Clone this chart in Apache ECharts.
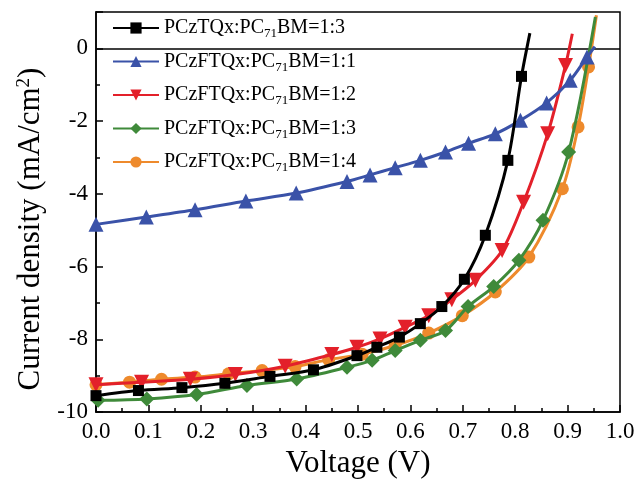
<!DOCTYPE html>
<html><head><meta charset="utf-8">
<script src="https://cdn.jsdelivr.net/npm/echarts@6/dist/echarts.min.js"></script>
<style>html,body{margin:0;padding:0;background:#fff}#c{width:638px;height:484px}</style>
</head><body><div id="c"></div>
<script>
const names = ['PCzTQx:PC71BM=1:3','PCzFTQx:PC71BM=1:1','PCzFTQx:PC71BM=1:2','PCzFTQx:PC71BM=1:3','PCzFTQx:PC71BM=1:4'];
const blackV = [0.0, 0.081, 0.164, 0.246, 0.332, 0.415, 0.498, 0.536, 0.579, 0.619, 0.660, 0.703, 0.743, 0.786, 0.812, 0.828];
const blackJ = [-9.55, -9.41, -9.33, -9.21, -9.02, -8.84, -8.45, -8.22, -7.94, -7.57, -7.10, -6.35, -5.14, -3.08, -0.77, 0.42];
const blueV = [0.0, 0.096, 0.189, 0.286, 0.382, 0.479, 0.523, 0.571, 0.619, 0.667, 0.711, 0.762, 0.810, 0.860, 0.905, 0.937, 0.952];
const blueJ = [-4.84, -4.64, -4.44, -4.20, -3.98, -3.66, -3.48, -3.28, -3.08, -2.85, -2.61, -2.35, -1.98, -1.50, -0.88, -0.24, 0.05];
const redV = [0.0, 0.087, 0.180, 0.266, 0.361, 0.450, 0.498, 0.542, 0.590, 0.635, 0.679, 0.724, 0.775, 0.816, 0.862, 0.896, 0.909];
const redJ = [-9.25, -9.18, -9.10, -8.97, -8.74, -8.42, -8.22, -7.99, -7.67, -7.35, -6.91, -6.38, -5.56, -4.23, -2.35, -0.47, 0.40];
const greenV = [0.004, 0.097, 0.192, 0.288, 0.383, 0.479, 0.527, 0.571, 0.619, 0.667, 0.710, 0.759, 0.807, 0.853, 0.902, 0.953];
const greenJ = [-9.68, -9.64, -9.52, -9.27, -9.09, -8.77, -8.58, -8.31, -8.03, -7.76, -7.10, -6.55, -5.83, -4.73, -2.85, 0.86];
const orangeV = [0.0, 0.064, 0.125, 0.189, 0.253, 0.317, 0.380, 0.444, 0.508, 0.571, 0.635, 0.699, 0.762, 0.826, 0.890, 0.920, 0.940, 0.955];
const orangeJ = [-9.25, -9.18, -9.10, -9.04, -8.95, -8.86, -8.75, -8.56, -8.41, -8.17, -7.83, -7.35, -6.70, -5.74, -3.86, -2.16, -0.51, 0.91];
const colors = ['#000000', '#3a52a8', '#e3202a', '#3f8a3a', '#ee8a2c'];
const symbols = ['rect', 'triangle', 'path://M0,0 L10,0 L5,10 Z', 'diamond', 'circle'];
const symSizes = [11, 15, 15, 15, 13];

function pts(vs, js, lastNoSym) {
  return vs.map((v, i) => {
    const d = { value: [v, js[i]] };
    if (lastNoSym && i === vs.length - 1) d.symbol = 'none';
    return d;
  });
}
const datasets = [pts(blackV, blackJ, true), pts(blueV, blueJ, true), pts(redV, redJ, true), pts(greenV, greenJ, true), pts(orangeV, orangeJ, true)];

const font = 'Liberation Serif';
const chart = echarts.init(document.getElementById('c'), null, { renderer: 'canvas' });
const series = names.map((n, i) => ({
  name: n, type: 'line', data: datasets[i], smooth: 0.3,
  symbol: symbols[i], symbolSize: symSizes[i],
  lineStyle: { color: colors[i], width: 3 },
  itemStyle: { color: colors[i] },
  z: 10 - i,
  animation: false
}));
series.push({
  type: 'line', data: [], silent: true, animation: false,
  markLine: { silent: true, symbol: 'none', label: { show: false },
    lineStyle: { color: '#000', width: 1.5, type: 'solid' }, data: [{ yAxis: 0 }] }
});
chart.setOption({
  animation: false,
  grid: { left: 96, right: 18, top: 12, bottom: 72, show: true, borderColor: '#000', borderWidth: 1.5 },
  legend: {
    orient: 'vertical', left: 107, top: 13, itemWidth: 46, itemHeight: 14, itemGap: 11,
    data: names,
    formatter: n => n.replace('PC71', 'PC{sub|71}'),
    textStyle: { fontFamily: font, fontSize: 20, color: '#000',
      rich: { sub: { fontFamily: font, fontSize: 13, verticalAlign: 'bottom', padding: [12, 0, 0, 0] } } }
  },
  xAxis: {
    type: 'value', min: 0, max: 1, interval: 0.1,
    name: 'Voltage (V)', nameLocation: 'middle', nameGap: 33,
    nameTextStyle: { fontFamily: font, fontSize: 31, color: '#000' },
    axisLine: { onZero: false, lineStyle: { color: '#000', width: 1.5 } },
    axisTick: { inside: true, length: 7, lineStyle: { width: 1.5 } },
    minorTick: { show: true, splitNumber: 2, length: 4, lineStyle: { color: '#000', width: 1.5 } },
    splitLine: { show: false },
    axisLabel: { fontFamily: font, fontSize: 23, color: '#000', margin: 8, formatter: v => v.toFixed(1) }
  },
  yAxis: {
    type: 'value', min: -10, max: 1, interval: 2,
    name: 'Current density (mA/cm{sup|2})', nameLocation: 'middle', nameGap: 40,
    nameTextStyle: { fontFamily: font, fontSize: 31, color: '#000', padding: [0, 34, 0, 0],
      rich: { sup: { fontFamily: font, fontSize: 19, verticalAlign: 'top', padding: [0, 0, 14, 0] } } },
    axisLine: { onZero: false, lineStyle: { color: '#000', width: 1.5 } },
    axisTick: { inside: true, length: 7, lineStyle: { width: 1.5 } },
    minorTick: { show: true, splitNumber: 2, length: 4, lineStyle: { color: '#000', width: 1.5 } },
    splitLine: { show: false },
    axisLabel: { fontFamily: font, fontSize: 23, color: '#000', margin: 8,
      formatter: v => (v > 0.5 ? '' : String(v)) }
  },
  series: series
});
</script></body></html>
